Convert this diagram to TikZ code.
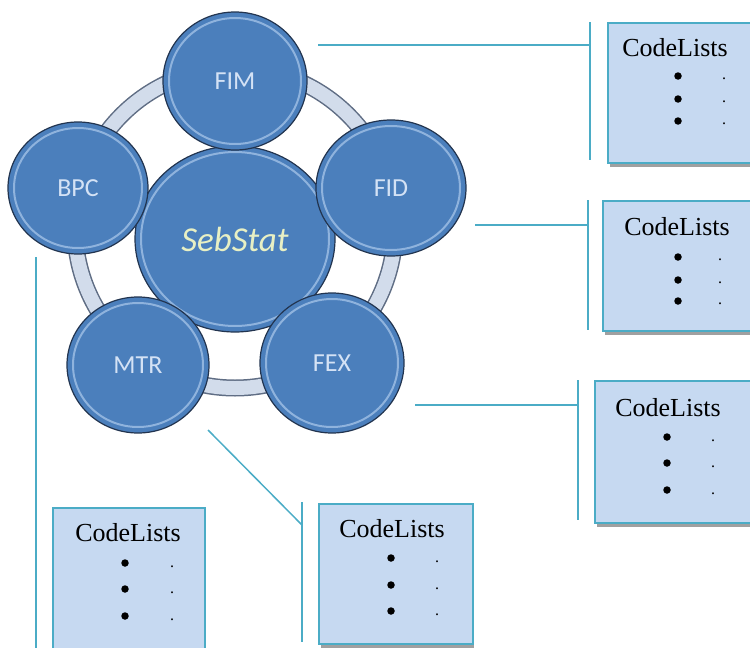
\documentclass[tikz,border=0pt]{standalone}
\usepackage{fontspec}
\setmainfont{Liberation Serif}
\newfontfamily\carlito{Carlito}
\usetikzlibrary{shapes.geometric}
\definecolor{orbfill}{HTML}{4B7FBC}
\definecolor{orbedge}{HTML}{22344F}
\definecolor{orbrim}{HTML}{B4CFF0}
\definecolor{orbtext}{HTML}{D4E2F5}
\definecolor{sebtext}{HTML}{E8F0C4}
\definecolor{ringfill}{HTML}{D2DCEB}
\definecolor{ringedge}{HTML}{5F6D84}
\definecolor{boxfill}{HTML}{C6D9F1}
\definecolor{linkc}{HTML}{4BACC6}
\definecolor{shadowc}{HTML}{A0A0A0}
\tikzset{
  orb/.style={ellipse, minimum width=144, minimum height=138, inner sep=0pt,
    fill=orbfill, draw=orbedge, line width=1.2pt,
    font=\carlito\fontsize{26}{26}\selectfont, text=orbtext},
  rim/.style={draw=orbrim, line width=2pt, opacity=.65},
  link/.style={draw=linkc, line width=1.5pt},
  clbox/.style={draw=linkc, fill=boxfill, line width=1.5pt, anchor=north west, inner sep=0pt},
  cltitle/.style={font=\fontsize{26}{26}\selectfont, inner sep=0pt},
  bul/.style={circle, fill=black, inner sep=0pt, minimum size=7.5pt},
  dotc/.style={font=\fontsize{16}{16}\selectfont, inner sep=0pt},
}
\begin{document}
\begin{tikzpicture}[x=1pt,y=-1pt]
\useasboundingbox (0,0) rectangle (750,648);
% ring
\coordinate (ringc) at (235,228);
\draw[ringedge, line width=17pt] (ringc) circle [radius=160];
\draw[ringfill, line width=14pt] (ringc) circle [radius=160];
% centre
\node[orb, minimum width=200, minimum height=186,
  font=\carlito\itshape\fontsize{35}{35}\selectfont, text=sebtext] (seb) at (235,239) {SebStat};
\draw[rim] (seb.center) ellipse [x radius=94, y radius=87];
% outer orbs
\node[orb] (fim) at (235,81) {FIM};
\draw[rim] (fim.center) ellipse [x radius=66, y radius=63];
\node[orb, minimum width=140, minimum height=132] (bpc) at (78,188) {BPC};
\draw[rim] (bpc.center) ellipse [x radius=64, y radius=60];
\node[orb, minimum width=150, minimum height=136] (fid) at (391,188) {FID};
\draw[rim] (fid.center) ellipse [x radius=69, y radius=62];
\node[orb, minimum width=142, minimum height=136] (mtr) at (138,365) {MTR};
\draw[rim] (mtr.center) ellipse [x radius=65, y radius=62];
\node[orb, minimum width=144, minimum height=140] (fex) at (332,363) {FEX};
\draw[rim] (fex.center) ellipse [x radius=66, y radius=64];

% connector end points
\coordinate (l1a) at (318,45);  \coordinate (l1b) at (590,45);
\coordinate (v1a) at (590,22);  \coordinate (v1b) at (590,160);
\coordinate (l2a) at (475,225); \coordinate (l2b) at (588,225);
\coordinate (v2a) at (588,200); \coordinate (v2b) at (588,330);
\coordinate (l3a) at (415,405); \coordinate (l3b) at (578,405);
\coordinate (v3a) at (578,380); \coordinate (v3b) at (578,520);
\coordinate (v4a) at (36,257);  \coordinate (v4b) at (36,652);
\coordinate (l5a) at (208,430); \coordinate (l5b) at (302,525);
\coordinate (v5a) at (302,502); \coordinate (v5b) at (302,642);

\draw[link] (l1a) -- (l1b);
\draw[link] (v1a) -- (v1b);
\draw[link] (l2a) -- (l2b);
\draw[link] (v2a) -- (v2b);
\draw[link] (l3a) -- (l3b);
\draw[link] (v3a) -- (v3b);
\draw[link] (v4a) -- (v4b);
\draw[link] (l5a) -- (l5b);
\draw[link] (v5a) -- (v5b);

% shadows
\fill[shadowc] (610,160) rectangle (755,167);
\fill[shadowc] (605,328) rectangle (755,335);
\fill[shadowc] (597,520) rectangle (755,527);
\fill[shadowc] (321,641) rectangle (474,648);

% boxes
\node[clbox, minimum width=150, minimum height=140] (box1) at (607,22) {};
\node[clbox, minimum width=155, minimum height=130] (box2) at (602,200) {};
\node[clbox, minimum width=163, minimum height=142] (box3) at (594,380) {};
\node[clbox, minimum width=152, minimum height=150] (box4) at (52,507) {};
\node[clbox, minimum width=154, minimum height=140] (box5) at (318,503) {};

% box 1
\node[cltitle] (t1) at (675,48) {CodeLists};
\node[bul] (b1a) at (678,76) {};
\node[bul] (b1b) at (678,99) {};
\node[bul] (b1c) at (678,121) {};
\node[dotc] (d1a) at (724,79) {.};
\node[dotc] (d1b) at (724,102) {.};
\node[dotc] (d1c) at (724,124) {.};
% box 2
\node[cltitle] (t2) at (677,227) {CodeLists};
\node[bul] (b2a) at (678,257) {};
\node[bul] (b2b) at (678,280) {};
\node[bul] (b2c) at (678,301) {};
\node[dotc] (d2a) at (720,260) {.};
\node[dotc] (d2b) at (720,283) {.};
\node[dotc] (d2c) at (720,304) {.};
% box 3
\node[cltitle] (t3) at (668,408) {CodeLists};
\node[bul] (b3a) at (667,437) {};
\node[bul] (b3b) at (667,463) {};
\node[bul] (b3c) at (667,490) {};
\node[dotc] (d3a) at (713,441) {.};
\node[dotc] (d3b) at (713,467) {.};
\node[dotc] (d3c) at (713,494) {.};
% box 4
\node[cltitle] (t4) at (128,533) {CodeLists};
\node[bul] (b4a) at (125,563) {};
\node[bul] (b4b) at (125,589) {};
\node[bul] (b4c) at (125,616) {};
\node[dotc] (d4a) at (172,567) {.};
\node[dotc] (d4b) at (172,593) {.};
\node[dotc] (d4c) at (172,620) {.};
% box 5
\node[cltitle] (t5) at (392,529) {CodeLists};
\node[bul] (b5a) at (391,558) {};
\node[bul] (b5b) at (391,585) {};
\node[bul] (b5c) at (391,611) {};
\node[dotc] (d5a) at (437,562) {.};
\node[dotc] (d5b) at (437,589) {.};
\node[dotc] (d5c) at (437,615) {.};
\end{tikzpicture}
\end{document}
